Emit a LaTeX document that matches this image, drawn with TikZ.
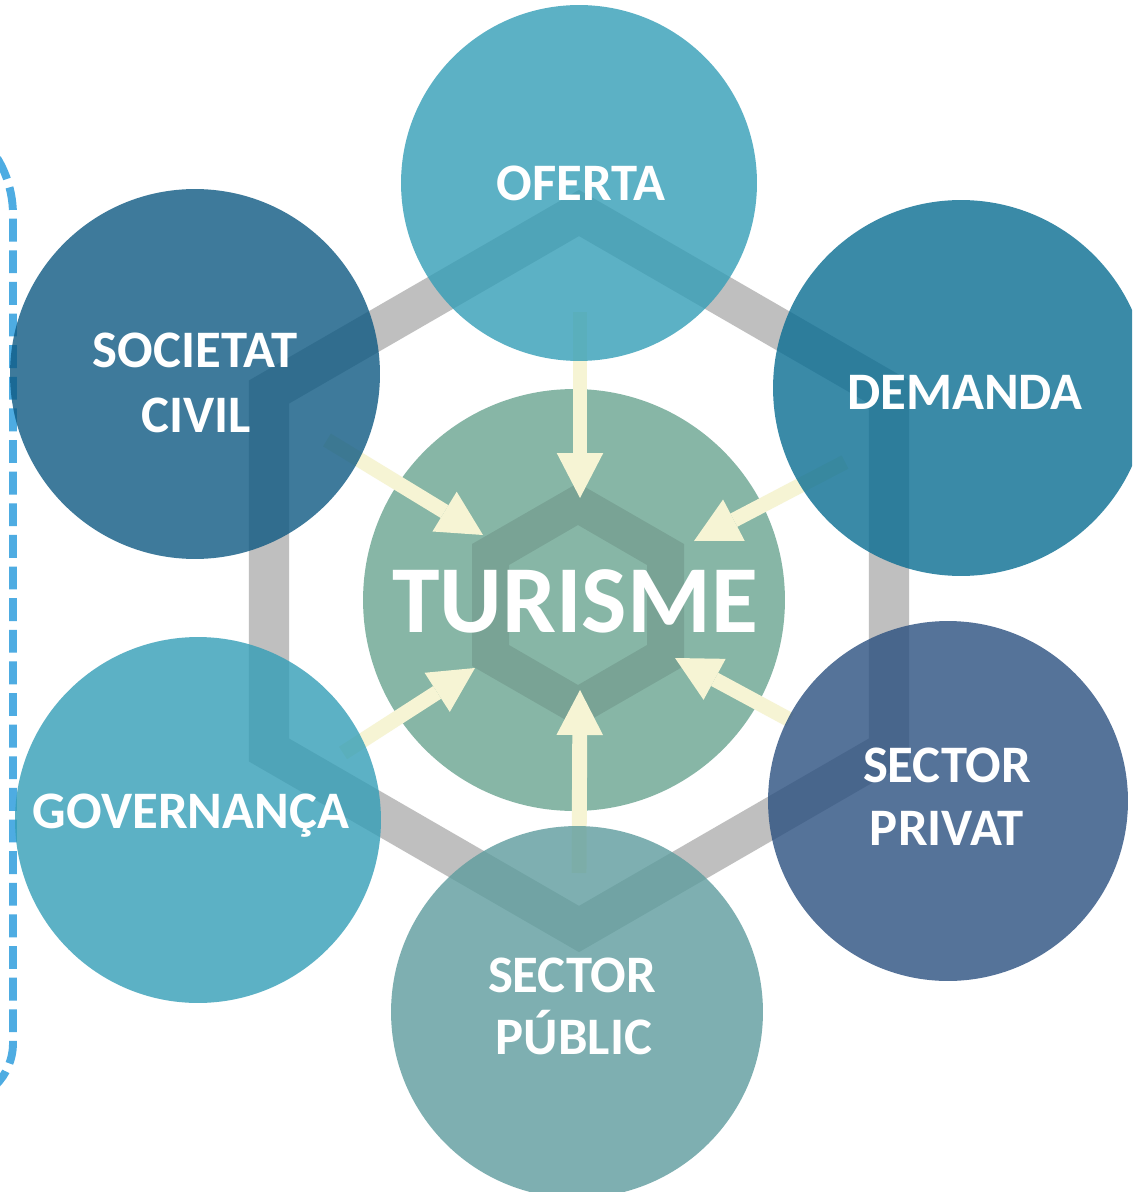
\documentclass[tikz,border=0pt]{standalone}
\usepackage{fontspec}
\setmainfont{Carlito}
\usetikzlibrary{arrows.meta}
\definecolor{cOfe}{RGB}{52,158,183}
\definecolor{cSoc}{RGB}{14,89,130}
\definecolor{cDem}{RGB}{9,109,146}
\definecolor{cTur}{RGB}{135,182,166}
\definecolor{cPri}{RGB}{43,80,128}
\definecolor{cPub}{RGB}{94,156,158}
\definecolor{cHex}{RGB}{191,191,191}
\definecolor{cCream}{RGB}{246,244,212}
\definecolor{cBracket}{RGB}{78,172,226}
\tikzset{
  circ/.style={circle, inner sep=0pt, outer sep=0pt, draw=none, fill opacity=0.8},
  txt/.style={text=white, font=\bfseries\fontsize{30}{36}\selectfont, anchor=base, inner sep=0pt},
  bigtxt/.style={font=\bfseries\fontsize{54.6}{60}\selectfont},
  arr/.style={draw=cCream, line width=8.5pt, -{Triangle[length=25.6pt, width=26.5pt, line width=0pt]}},
  hexline/.style={draw=cHex, line width=22.8pt, line join=miter},
  bracket/.style={draw=cBracket, line width=4.5pt, dash pattern=on 13pt off 5pt}
}
\begin{document}
\begin{tikzpicture}[x=0.02cm, y=-0.02cm]
\useasboundingbox (0,0) rectangle (1132,1192);
\clip (0,0) rectangle (1132,1192);
\fill[white] (0,0) rectangle (1132,1192);

% dashed bracket
\draw[bracket] (-300,105) -- (-97,105) arc[start angle=-90, end angle=0, radius=110]
  -- (13,1043) arc[start angle=0, end angle=90, radius=60] -- (-300,1103);

% grey hexagon
\draw[hexline] (579,213) -- (889,392) -- (889,750) -- (579,929) -- (269,750) -- (269,392) -- cycle;

% central circle
\node[circle, inner sep=0pt, fill=cTur, minimum size=8.44cm] (tur) at (574,600) {};
\fill[black, fill opacity=0.1, even odd rule]
  (578,483) -- (684,544) -- (684,666) -- (578,727) -- (472,666) -- (472,544) -- cycle
  (578,525) -- (647,565) -- (647,645) -- (578,685) -- (509,645) -- (509,565) -- cycle;
\node[txt, bigtxt] (ltur) at (575,632) {TURISME};

% arrows
\coordinate (ofeT) at (580,312);  \coordinate (ofeH) at (580,498);
\coordinate (socT) at (327,440);  \coordinate (socH) at (483,535);
\coordinate (demT) at (845,462);  \coordinate (demH) at (694,541);
\coordinate (priT) at (790,720);  \coordinate (priH) at (675,658);
\coordinate (pubT) at (579,873);  \coordinate (pubH) at (580,690);
\coordinate (govT) at (343,753);  \coordinate (govH) at (475,668);
\draw[arr] (ofeT) -- (ofeH);
\draw[arr] (socT) -- (socH);
\draw[arr] (demT) -- (demH);
\draw[arr] (priT) -- (priH);
\draw[arr] (pubT) -- (pubH);
\draw[arr] (govT) -- (govH);

% outer circles
\node[circ, fill=cOfe, minimum size=7.12cm] (ofe) at (579,183) {};
\node[circ, fill=cSoc, minimum size=7.40cm] (soc) at (195,374) {};
\node[circ, fill=cDem, minimum size=7.52cm] (dem) at (961,388) {};
\node[circ, fill=cOfe, minimum size=7.32cm] (gov) at (198,820) {};
\node[circ, fill=cPri, minimum size=7.20cm] (pri) at (948,801) {};
\node[circ, fill=cPub, minimum size=7.44cm] (pub) at (577,1012) {};

% labels
\node[txt] (lofe) at (581,201) {OFERTA};
\node[txt] (lsoc1) at (195,368) {SOCIETAT};
\node[txt] (lsoc2) at (196,432) {CIVIL};
\node[txt] (ldem) at (965,409) {DEMANDA};
\node[txt] (lgov) at (191,828) {GOVERNANÇA};
\node[txt] (lpri1) at (947,782) {SECTOR};
\node[txt] (lpri2) at (947,845) {PRIVAT};
\node[txt] (lpub1) at (572,992) {SECTOR};
\node[txt] (lpub2) at (574,1054) {PÚBLIC};
\end{tikzpicture}
\end{document}
